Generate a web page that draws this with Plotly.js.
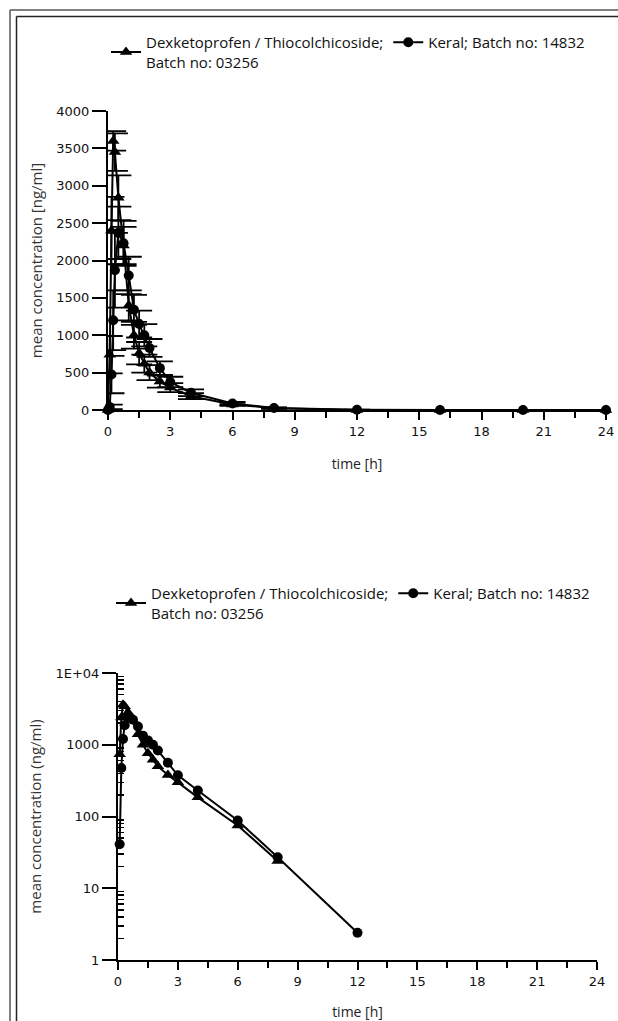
<!DOCTYPE html>
<html>
<head>
<meta charset="utf-8">
<script src="https://cdn.plot.ly/plotly-3.0.1.min.js"></script>
<style>
html,body{margin:0;padding:0;background:#fff;}
#chart{width:618px;height:1021px;}
</style>
</head>
<body>
<div id="chart"></div>
<script>
// ---- data ----
const hours = [0, 0.083, 0.167, 0.25, 0.333, 0.5, 0.75, 1, 1.25, 1.5, 1.75, 2, 2.5, 3, 4, 6, 8, 12, 16, 20, 24];
const dexMean = [0, 740, 2400, 3600, 3450, 2840, 2200, 1400, 1000, 760, 620, 500, 380, 300, 185, 75, 24, 0, 0, 0, 0];
const dexSD   = [0, 250, 450, 130, 250, 300, 250, 200, 180, 150, 120, 100, 80, 60, 40, 20, 8, 0, 0, 0, 0];
const keralMean = [0, 41, 474, 1200, 1870, 2370, 2230, 1800, 1340, 1150, 1000, 830, 560, 375, 230, 88, 27, 2.4, 0, 0, 0];
const keralSD   = [0, 30, 250, 400, 500, 350, 300, 250, 200, 180, 150, 120, 90, 70, 45, 20, 8, 1, 0, 0, 0];

const dexName = 'Dexketoprofen / Thiocolchicoside;<br>Batch no: 03256';
const keralName = 'Keral; Batch no: 14832';

const logTickVals = [1, 10, 100, 1000, 10000];
const logTickText = ['1', '10', '100', '1000', '1E+04'];

// ---- helpers ----
const W = 618, H = 1021;
const px = v => v / W;
const py = v => 1 - v / H;
// values of zero cannot be shown on a log axis: leave them out there
const positiveOnly = arr => arr.map(v => (v > 0 ? v : null));

const minorLog = [];
for (let d = 1; d < 10000; d *= 10) for (let k = 2; k <= 9; k++) minorLog.push(k * d);

const tickFont = {family: 'DejaVu Sans, sans-serif', size: 13, color: '#111'};
const titleFont = {family: 'Open Sans, sans-serif', size: 15, color: '#333'};
const xTitleFont = {family: 'Open Sans, sans-serif', size: 14, color: '#222'};
const legendFont = {family: 'Open Sans, sans-serif', size: 15, color: '#111'};

const lineStyle = {color: 'black', width: 2};

const traces = [
  {x: hours, y: dexMean, name: dexName, type: 'scatter', mode: 'lines+markers',
   xaxis: 'x', yaxis: 'y', legend: 'legend', cliponaxis: false,
   line: lineStyle, marker: {symbol: 'triangle-up', size: 11, color: 'black'},
   error_y: {type: 'data', array: dexSD, visible: true, color: 'black', thickness: 1.8, width: 13}},
  {x: hours, y: keralMean, name: keralName, type: 'scatter', mode: 'lines+markers',
   xaxis: 'x', yaxis: 'y', legend: 'legend', cliponaxis: false,
   line: lineStyle, marker: {symbol: 'circle', size: 10, color: 'black'},
   error_y: {type: 'data', array: keralSD, visible: true, color: 'black', thickness: 1.8, width: 13}},
  {x: hours, y: positiveOnly(dexMean), name: dexName, type: 'scatter', mode: 'lines+markers',
   xaxis: 'x2', yaxis: 'y2', legend: 'legend2', cliponaxis: false, connectgaps: false,
   line: lineStyle, marker: {symbol: 'triangle-up', size: 11, color: 'black'}},
  {x: hours, y: positiveOnly(keralMean), name: keralName, type: 'scatter', mode: 'lines+markers',
   xaxis: 'x2', yaxis: 'y2', legend: 'legend2', cliponaxis: false, connectgaps: false,
   line: lineStyle, marker: {symbol: 'circle', size: 10, color: 'black'}}
];

const xCommon = {
  range: [0, 24], dtick: 3, tick0: 0, ticks: 'outside', ticklen: 8, tickwidth: 2, tickcolor: 'black',
  showline: true, linecolor: 'black', linewidth: 2, showgrid: false, zeroline: false,
  tickfont: tickFont, fixedrange: true,
  minor: {dtick: 1.5, tick0: 0, ticks: 'outside', ticklen: 6, tickwidth: 2, tickcolor: 'black', showgrid: false}
};

const layout = {
  width: W, height: H,
  margin: {l: 0, r: 0, t: 0, b: 0},
  paper_bgcolor: 'white', plot_bgcolor: 'white',
  showlegend: true,
  xaxis: Object.assign({}, xCommon, {
    domain: [px(108), px(606)], anchor: 'y',
    title: {text: 'time [h]', font: xTitleFont, standoff: 22}
  }),
  yaxis: {
    domain: [py(410), py(111)], anchor: 'x', range: [0, 4000], dtick: 500, tick0: 0,
    ticks: 'outside', ticklen: 14, tickwidth: 2, tickcolor: 'black',
    showline: true, linecolor: 'black', linewidth: 2, showgrid: false, zeroline: false,
    tickfont: tickFont, fixedrange: true,
    title: {text: 'mean concentration [ng/ml]', font: titleFont, standoff: 10}
  },
  xaxis2: Object.assign({}, xCommon, {
    domain: [px(118), px(597)], anchor: 'y2',
    title: {text: 'time [h]', font: xTitleFont, standoff: 22}
  }),
  yaxis2: {
    domain: [py(960), py(673)], anchor: 'x2', type: 'log', range: [0, 4],
    tickmode: 'array', tickvals: logTickVals, ticktext: logTickText,
    ticks: 'outside', ticklen: 14, tickwidth: 2, tickcolor: 'black',
    showline: true, linecolor: 'black', linewidth: 2, showgrid: false, zeroline: false,
    tickfont: tickFont, fixedrange: true,
    minor: {tickmode: 'array', tickvals: minorLog, ticks: 'inside', ticklen: 6, tickwidth: 1.5, tickcolor: 'black', showgrid: false},
    title: {text: 'mean concentration (ng/ml)', font: titleFont, standoff: 10}
  },
  legend: {
    orientation: 'h', x: px(106), xanchor: 'left', y: py(26), yanchor: 'top',
    font: legendFont, bgcolor: 'rgba(0,0,0,0)', itemwidth: 30, traceorder: 'normal', valign: 'middle'
  },
  legend2: {
    orientation: 'h', x: px(111), xanchor: 'left', y: py(577), yanchor: 'top',
    font: legendFont, bgcolor: 'rgba(0,0,0,0)', itemwidth: 30, traceorder: 'normal', valign: 'middle'
  },
  shapes: [
    {type: 'line', xref: 'paper', yref: 'paper', x0: px(10), x1: px(10), y0: py(10), y1: 0, line: {color: '#555', width: 1.5}},
    {type: 'line', xref: 'paper', yref: 'paper', x0: px(10), x1: 1, y0: py(10), y1: py(10), line: {color: '#555', width: 1.5}},
    {type: 'line', xref: 'paper', yref: 'paper', x0: px(16.5), x1: px(16.5), y0: py(16.5), y1: 0, line: {color: '#222', width: 1.5}},
    {type: 'line', xref: 'paper', yref: 'paper', x0: px(16.5), x1: 1, y0: py(16.5), y1: py(16.5), line: {color: '#222', width: 1.5}}
  ]
};

Plotly.newPlot('chart', traces, layout, {displayModeBar: false, staticPlot: true});
</script>
</body>
</html>
